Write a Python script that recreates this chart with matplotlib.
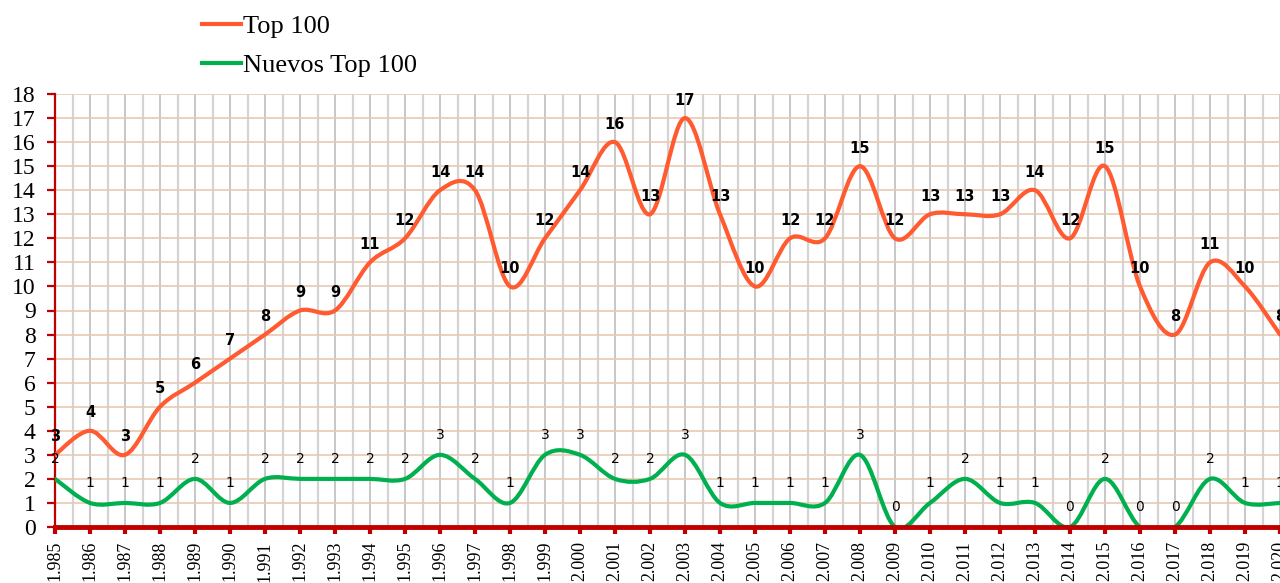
import matplotlib
matplotlib.use("Agg")
import matplotlib.pyplot as plt
from matplotlib.path import Path
from matplotlib.patches import PathPatch
from matplotlib.lines import Line2D
import numpy as np

years = list(range(1985, 2021))
top100 = [3, 4, 3, 5, 6, 7, 8, 9, 9, 11, 12, 14, 14, 10, 12, 14, 16, 13, 17, 13,
          10, 12, 12, 15, 12, 13, 13, 13, 14, 12, 15, 10, 8, 11, 10, 8]
nuevos = [2, 1, 1, 1, 2, 1, 2, 2, 2, 2, 2, 3, 2, 1, 3, 3, 2, 2, 3, 1,
          1, 1, 1, 3, 0, 1, 2, 1, 1, 0, 2, 0, 0, 2, 1, 1]
year_labels = ["{}.{}".format(str(y)[0], str(y)[1:]) for y in years]
series_names = ["Top 100", "Nuevos Top 100"]

ORANGE = "#FF5A30"
GREEN = "#00B04F"
RED = "#C00000"


def smooth_path(xs, ys):
    xs = np.asarray(xs, float)
    ys = np.asarray(ys, float)
    n = len(xs)
    verts = [(xs[0], ys[0])]
    codes = [Path.MOVETO]
    for i in range(n - 1):
        i0 = max(i - 1, 0)
        i3 = min(i + 2, n - 1)
        b1 = (xs[i] + (xs[i + 1] - xs[i0]) / 6, ys[i] + (ys[i + 1] - ys[i0]) / 6)
        b2 = (xs[i + 1] - (xs[i3] - xs[i]) / 6, ys[i + 1] - (ys[i3] - ys[i]) / 6)
        verts += [b1, b2, (xs[i + 1], ys[i + 1])]
        codes += [Path.CURVE4] * 3
    return Path(verts, codes)


fig = plt.figure(figsize=(12.8, 5.83), dpi=100)
ax = fig.add_axes([55 / 1280, 56 / 583, 1 - 55 / 1280, (527 - 94) / 583])
ax.set_xlim(1985, 2020)
ax.set_ylim(0, 18)

# grid
ax.set_yticks(range(0, 19))
ax.set_xticks(years)
ax.set_xticks(np.arange(1985.5, 2020, 1.0), minor=True)
ax.grid(axis="y", color="#E8C9B2", linewidth=1.2, zorder=0)
ax.grid(axis="x", which="major", color="#BEBEBE", linewidth=1.2, zorder=0)
ax.grid(axis="x", which="minor", color="#D4D4D4", linewidth=1.6, zorder=0)
ax.set_axisbelow(True)

for s in ["top", "right", "bottom"]:
    ax.spines[s].set_visible(False)
ax.spines["left"].set_color(RED)
ax.spines["left"].set_linewidth(1.6)

ax.tick_params(axis="y", which="major", colors=RED, length=6, width=1.6,
               labelcolor="black", labelsize=17, pad=8)
ax.tick_params(axis="x", which="major", colors=RED, length=5, width=3,
               labelcolor="black", labelsize=13, pad=5)
ax.tick_params(axis="x", which="minor", length=0)
for lab in ax.get_yticklabels():
    lab.set_fontfamily("Liberation Serif")
ax.set_xticklabels(year_labels, rotation=90, va="top", ha="center",
                   family="Liberation Serif")

ax.axhline(0, color=RED, linewidth=3.5, zorder=6, clip_on=False)

p1 = PathPatch(smooth_path(years, top100), fill=False, edgecolor=ORANGE,
               linewidth=3, zorder=4, capstyle="round", joinstyle="round")
p2 = PathPatch(smooth_path(years, nuevos), fill=False, edgecolor=GREEN,
               linewidth=3, zorder=4, capstyle="round", joinstyle="round")
ax.add_patch(p1)
ax.add_patch(p2)

for x, y in zip(years, top100):
    ax.annotate(str(y), (x, y), xytext=(0, 13), textcoords="offset points",
                ha="center", va="center", fontsize=10.5, fontweight="bold",
                family="DejaVu Sans", color="black", zorder=7, annotation_clip=False)
for x, y in zip(years, nuevos):
    ax.annotate(str(y), (x, y), xytext=(0, 14.5), textcoords="offset points",
                ha="center", va="center", fontsize=10,
                family="DejaVu Sans", color="black", zorder=7, annotation_clip=False)

handles = [Line2D([], [], color=ORANGE, linewidth=3),
           Line2D([], [], color=GREEN, linewidth=3)]
fig.legend(handles, series_names, loc="upper left",
           bbox_to_anchor=(178 / 1280, 1.0 + 9 / 583),
           frameon=False, prop={"family": "Liberation Serif", "size": 19},
           handlelength=1.5, handletextpad=0.08, labelspacing=0.58)

fig.savefig("out.png", dpi=100)
